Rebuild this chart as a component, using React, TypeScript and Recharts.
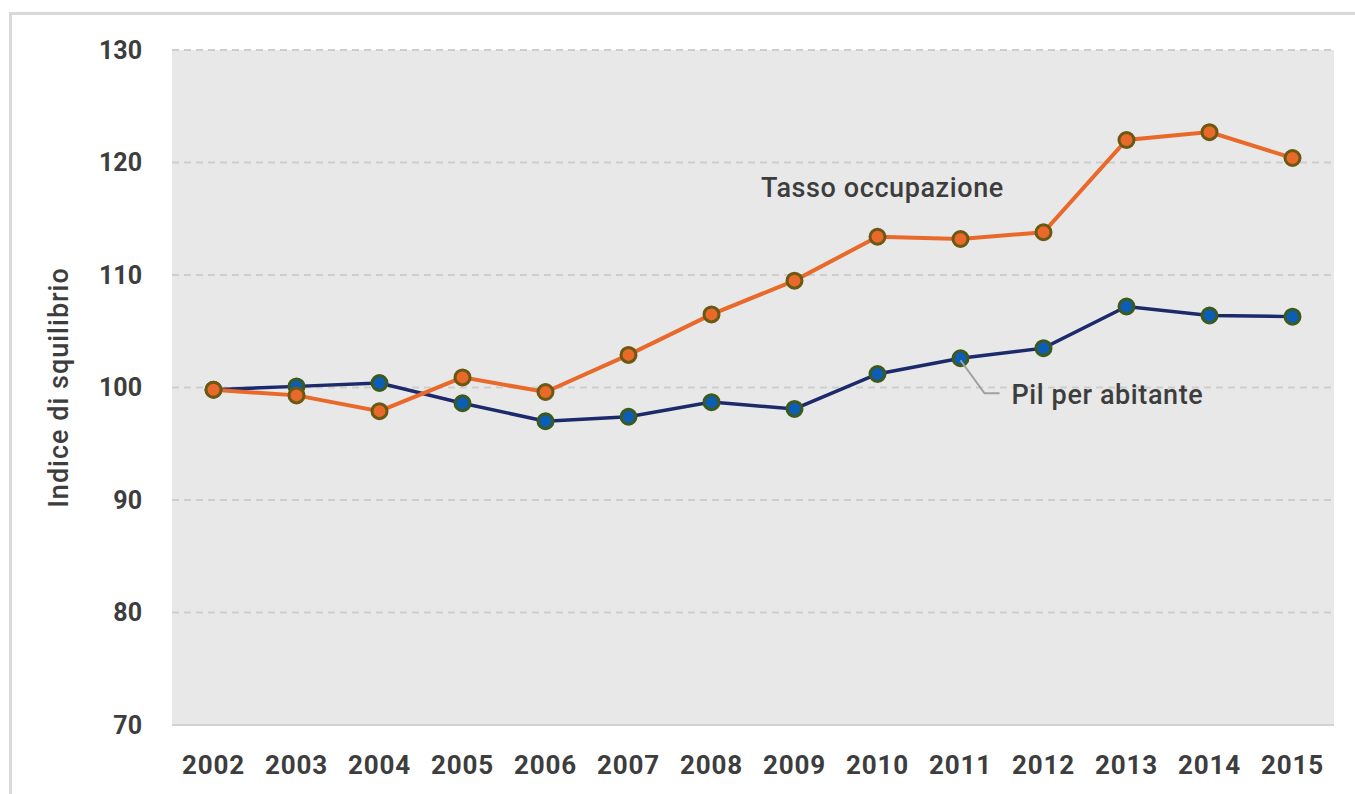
import React from "react";
import {
  LineChart,
  Line,
  XAxis,
  YAxis,
  CartesianGrid,
  LabelList,
} from "recharts";

const years: string[] = [
  "2002", "2003", "2004", "2005", "2006", "2007", "2008",
  "2009", "2010", "2011", "2012", "2013", "2014", "2015",
];

const tassoOccupazione: number[] = [
  99.8, 99.3, 97.9, 100.9, 99.6, 102.9, 106.5,
  109.5, 113.4, 113.2, 113.8, 122.0, 122.7, 120.4,
];

const pilPerAbitante: number[] = [
  99.8, 100.1, 100.4, 98.6, 97.0, 97.4, 98.7,
  98.1, 101.2, 102.6, 103.5, 107.2, 106.4, 106.3,
];

const yTicks: number[] = [70, 80, 90, 100, 110, 120, 130];

const data = years.map((year, i) => ({
  year,
  tasso: tassoOccupazione[i],
  pil: pilPerAbitante[i],
}));

const FONT = "Roboto, 'Noto Sans', sans-serif";
const TEXT = "#3d3d3d";

const TassoLabel = (props: any) => {
  const { x, y, index } = props;
  if (index !== 8) return null;
  return (
    <text
      x={x + 5}
      y={y - 49}
      textAnchor="middle"
      dominantBaseline="central"
      fontFamily={FONT}
      fontWeight={500}
      fontSize={27}
      letterSpacing={0.6}
      fill={TEXT}
    >
      Tasso occupazione
    </text>
  );
};

const PilLabel = (props: any) => {
  const { x, y, index } = props;
  if (index !== 9) return null;
  return (
    <g>
      <polyline
        points={`${x},${y + 2} ${x + 24},${y + 35} ${x + 39},${y + 35}`}
        fill="none"
        stroke="#a0a0a0"
        strokeWidth={2}
      />
      <text
        x={x + 51}
        y={y + 37}
        dominantBaseline="central"
        fontFamily={FONT}
        fontWeight={500}
        fontSize={27}
        letterSpacing={0.6}
        fill={TEXT}
      >
        Pil per abitante
      </text>
    </g>
  );
};

export default function App() {
  return (
    <div
      style={{
        position: "absolute",
        left: 0,
        top: 0,
        width: 1355,
        height: 794,
        overflow: "hidden",
        background: "#fff",
      }}
    >
      <div
        style={{
          position: "absolute",
          left: 9,
          top: 12,
          width: 1400,
          height: 900,
          border: "3px solid #d9d9d9",
        }}
      />
      <div style={{ position: "absolute", left: 0, top: 0 }}>
        <LineChart
          width={1355}
          height={794}
          data={data}
          margin={{ top: 50, right: 21, left: 0, bottom: 0 }}
        >
          <CartesianGrid
            vertical={false}
            fill="#e8e8e8"
            stroke="#cdcdcd"
            strokeWidth={2}
            strokeDasharray="7 5"
          />
          <XAxis
            dataKey="year"
            height={69}
            padding={{ left: 41.5, right: 41.5 }}
            axisLine={{ stroke: "#d2d2d2", strokeWidth: 2 }}
            tickLine={false}
            tickSize={0}
            tickMargin={31}
            interval={0}
            tick={{
              fill: TEXT,
              fontSize: 26,
              fontWeight: 700,
              fontFamily: FONT,
              letterSpacing: 0.8,
            }}
          />
          <YAxis
            width={172}
            domain={[70, 130]}
            ticks={yTicks}
            axisLine={false}
            tickLine={false}
            tickSize={0}
            tickMargin={30}
            tick={{ fill: TEXT, fontSize: 25, fontWeight: 700, fontFamily: FONT }}
            label={{
              value: "Indice di squilibrio",
              angle: -90,
              position: "insideLeft",
              offset: 58,
              fontSize: 27,
              fontFamily: FONT,
              fontWeight: 500,
              fill: TEXT,
              letterSpacing: 1,
              style: { textAnchor: "middle" },
            }}
          />
          <Line
            dataKey="pil"
            stroke="#1c2a6b"
            strokeWidth={3.5}
            isAnimationActive={false}
            dot={{ r: 7.5, fill: "#0b5db5", stroke: "#3d5a1c", strokeWidth: 3 }}
            activeDot={false}
          >
            <LabelList dataKey="pil" content={PilLabel} />
          </Line>
          <Line
            dataKey="tasso"
            stroke="#e8692a"
            strokeWidth={4}
            isAnimationActive={false}
            dot={{ r: 7.5, fill: "#e8692a", stroke: "#6b5812", strokeWidth: 3 }}
            activeDot={false}
          >
            <LabelList dataKey="tasso" content={TassoLabel} />
          </Line>
        </LineChart>
      </div>
    </div>
  );
}
